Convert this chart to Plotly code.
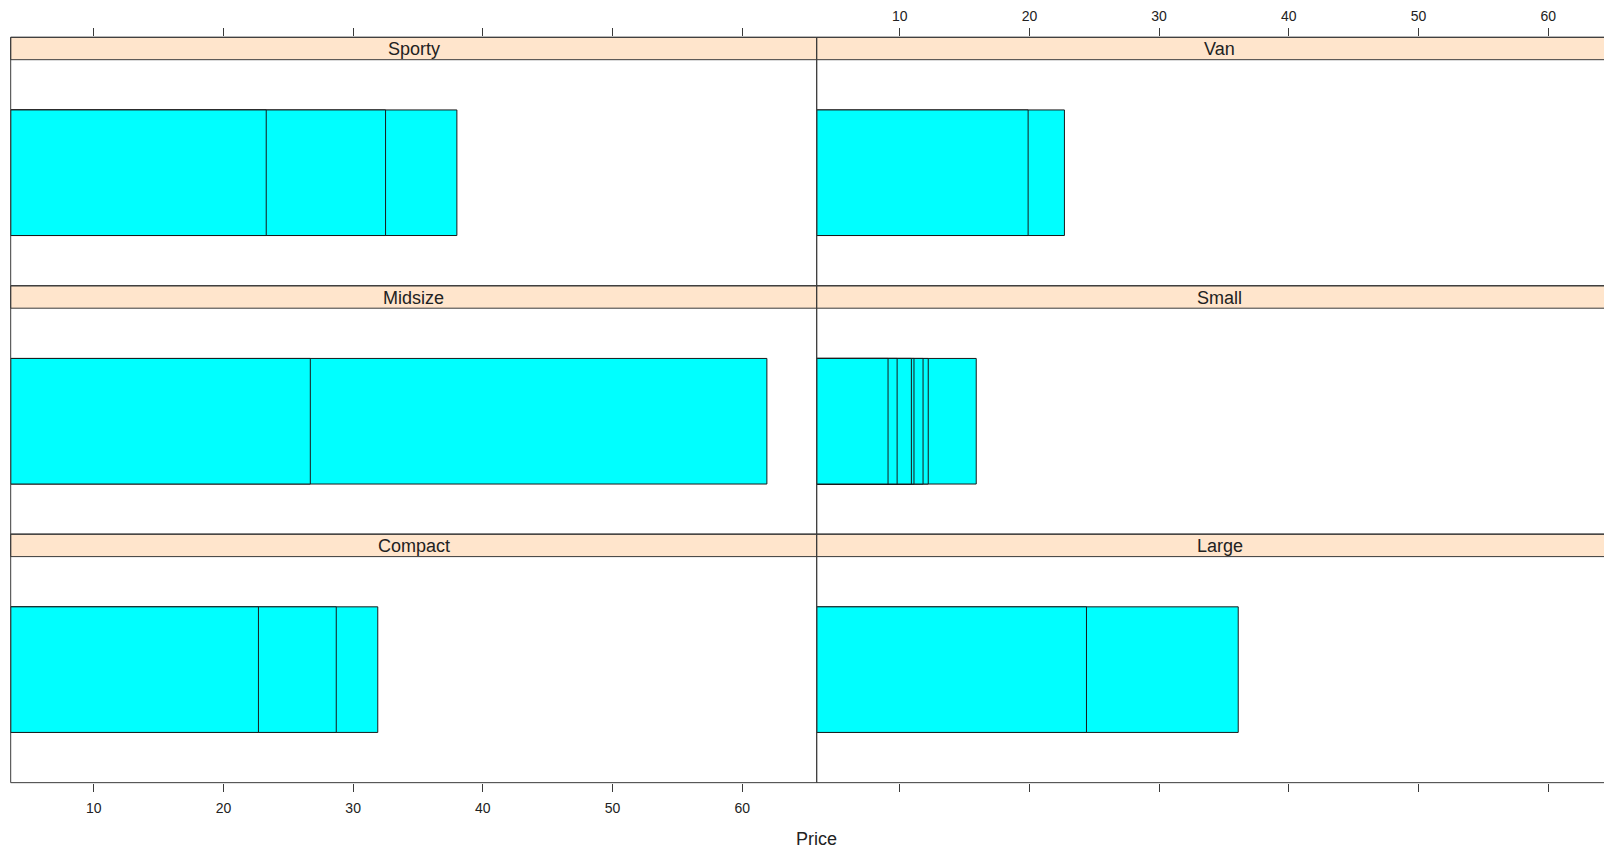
import plotly.graph_objects as go

# Car prices (in $1000) per vehicle type; each value is one overlapping bar
panels = ["Sporty", "Van", "Midsize", "Small", "Compact", "Large"]
price_sporty = [23.3, 32.5, 38.0]
price_van = [19.9, 22.7]
price_midsize = [26.7, 61.9]
price_small = [9.1, 9.8, 10.9, 11.1, 11.8, 12.2, 15.9]
price_compact = [22.7, 28.7, 31.9]
price_large = [24.4, 36.1]
tick_values = [10, 20, 30, 40, 50, 60]

values_by_panel = {
    "Sporty": price_sporty, "Van": price_van,
    "Midsize": price_midsize, "Small": price_small,
    "Compact": price_compact, "Large": price_large,
}

W, H = 1604, 852
X_LO = 3.6
X_HI = 65.74
PX_PER_UNIT = 12.97

# layout geometry in pixels
col_left = [10.7, 816.7]
col_right = [816.7, 816.7 + (X_HI - X_LO) * PX_PER_UNIT]
row_top = [37.3, 285.8, 534.2]
row_h = 248.47
strip_h = 22.4
Y_LO, Y_HI_DATA = 0.4, 1.6
y_unit_px = (row_h - strip_h) / (Y_HI_DATA - Y_LO)
Y_HI = Y_LO + row_h / y_unit_px

FRAME = "#3a3a3a"
STRIP_FILL = "#ffe5cc"
FONT = "Liberation Sans, Arial, sans-serif"

def px_x(p):
    return p / W

def px_y(p):
    return 1 - p / H

fig = go.Figure()
shapes = []
annotations = []

for i, name in enumerate(panels):
    r, c = divmod(i, 2)
    idx = i + 1
    xa = "x" if idx == 1 else f"x{idx}"
    ya = "y" if idx == 1 else f"y{idx}"
    vals = sorted(values_by_panel[name], reverse=True)
    fig.add_trace(go.Bar(
        y=[1] * len(vals),
        x=[v - X_LO for v in vals],
        base=X_LO,
        orientation="h",
        width=2 / 3,
        marker=dict(color="#00ffff", line=dict(color="#1a1a1a", width=1)),
        xaxis=xa, yaxis=ya, showlegend=False,
        hovertemplate=f"{name}: %{{x}}<extra></extra>",
    ))

    x_dom = [px_x(col_left[c]), 1.0 if c == 1 else px_x(col_left[1])]
    y_dom = [px_y(row_top[r] + row_h), px_y(row_top[r])]
    x_max = X_HI if c == 0 else X_LO + (W - col_left[1]) / PX_PER_UNIT

    if r == 0:
        side, ticks, show_lbl, standoff = "top", "outside", (c == 1), 2
    elif r == 2:
        side, ticks, show_lbl, standoff = "bottom", "outside", (c == 0), 5
    else:
        side, ticks, show_lbl, standoff = "bottom", "", False, 0

    fig.update_layout({
        ("xaxis" if idx == 1 else f"xaxis{idx}"): dict(
            domain=x_dom, range=[X_LO, x_max], anchor=ya, side=side,
            tickvals=tick_values, ticks=ticks, ticklen=8, tickwidth=1,
            tickcolor=FRAME, showticklabels=show_lbl, showgrid=False,
            zeroline=False, showline=False, ticklabelstandoff=standoff,
            tickfont=dict(family=FONT, size=14, color="#222"),
        ),
        ("yaxis" if idx == 1 else f"yaxis{idx}"): dict(
            domain=y_dom, range=[Y_LO, Y_HI], anchor=xa,
            showticklabels=False, ticks="", showgrid=False,
            zeroline=False, showline=False, fixedrange=True,
        ),
    })

    right_edge = col_right[1] if c == 1 else col_left[1]
    # strip
    shapes.append(dict(
        type="rect", xref="paper", yref="paper",
        x0=px_x(col_left[c]), x1=px_x(right_edge),
        y0=px_y(row_top[r] + strip_h), y1=px_y(row_top[r]),
        fillcolor=STRIP_FILL, line=dict(color=FRAME, width=1), layer="above",
    ))
    # panel frame
    shapes.append(dict(
        type="rect", xref="paper", yref="paper",
        x0=px_x(col_left[c]), x1=px_x(right_edge),
        y0=px_y(row_top[r] + row_h), y1=px_y(row_top[r]),
        line=dict(color=FRAME, width=1), fillcolor="rgba(0,0,0,0)",
        layer="above",
    ))
    annotations.append(dict(
        text=name, xref="paper", yref="paper",
        x=px_x((col_left[c] + right_edge) / 2),
        y=px_y(row_top[r] + strip_h / 2 + 0.8),
        xanchor="center", yanchor="middle", showarrow=False,
        font=dict(family=FONT, size=18, color="#222"),
    ))

annotations.append(dict(
    text="Price", xref="paper", yref="paper",
    x=px_x(col_left[1]), y=px_y(839), xanchor="center", yanchor="middle",
    showarrow=False, font=dict(family=FONT, size=18, color="#222"),
))

fig.update_layout(
    width=W, height=H, margin=dict(l=0, r=0, t=0, b=0),
    paper_bgcolor="white", plot_bgcolor="rgba(0,0,0,0)",
    barmode="overlay", shapes=shapes, annotations=annotations,
    font=dict(family=FONT),
)

fig.write_html("out.html")
